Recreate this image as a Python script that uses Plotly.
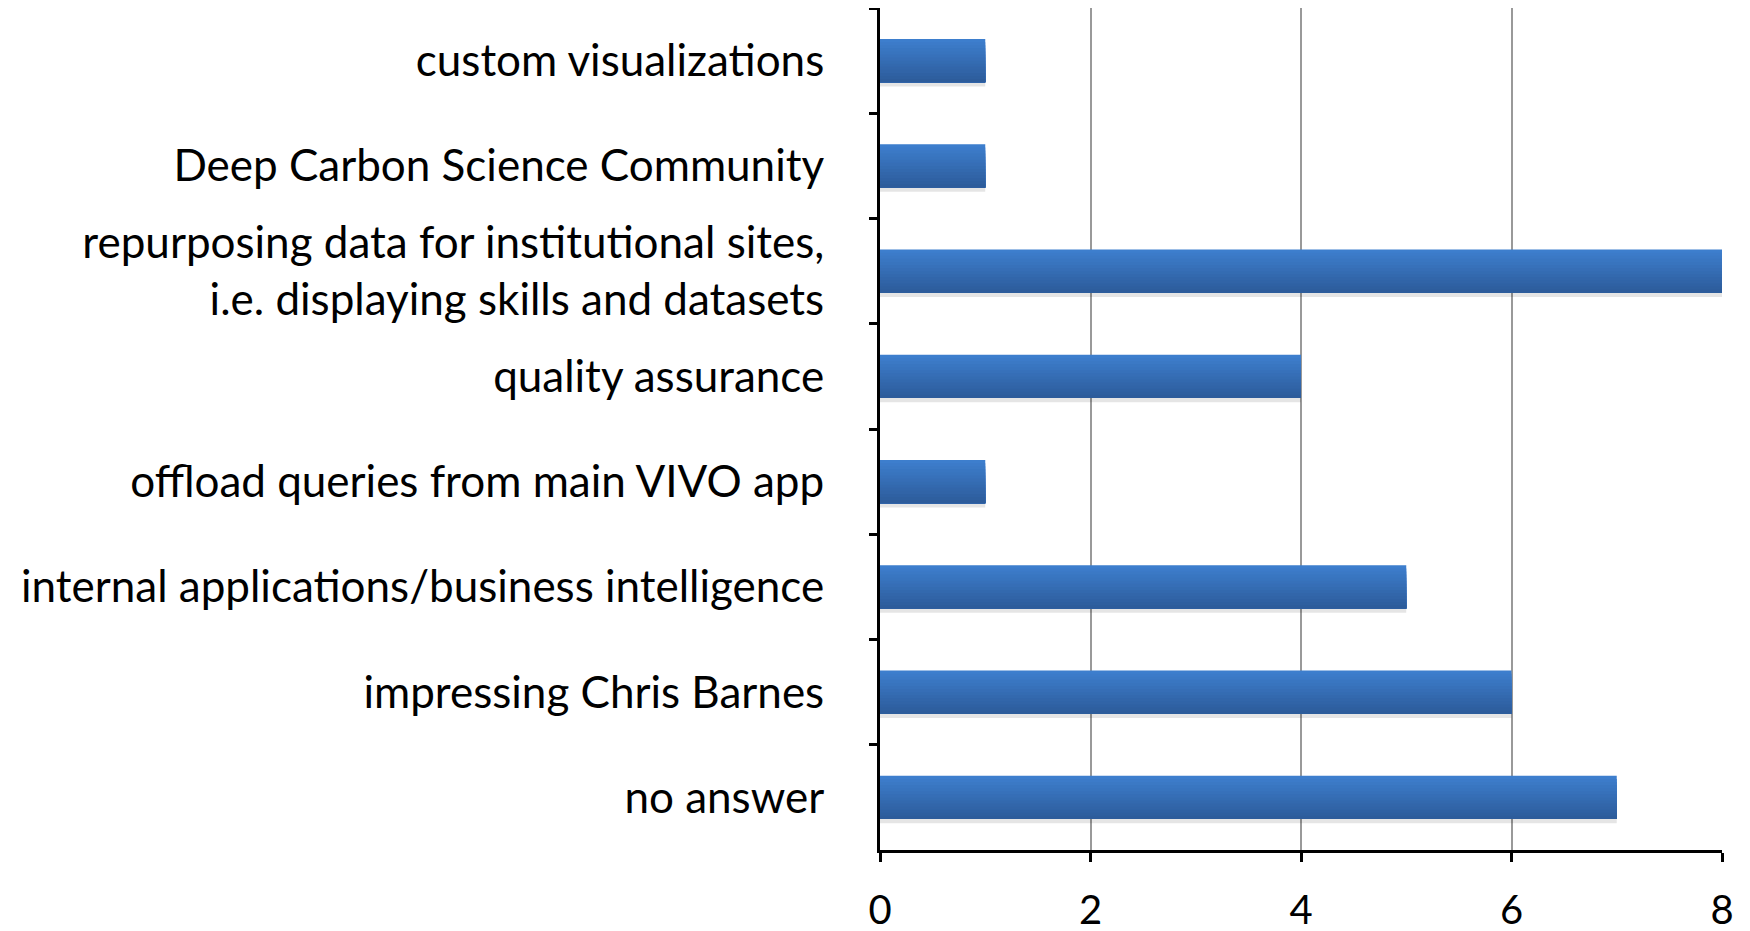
import plotly.graph_objects as go

categories = [
    "custom visualizations",
    "Deep Carbon Science Community",
    "repurposing data for institutional sites,<br>i.e. displaying skills and datasets",
    "quality assurance",
    "offload queries from main VIVO app",
    "internal applications/business intelligence",
    "impressing Chris Barnes",
    "no answer",
]
values = [1, 1, 8, 4, 1, 5, 6, 7]
x_ticks = [0, 2, 4, 6, 8]

FONT = "Lato"
fig = go.Figure()

bw = 0.41
n = 14
top = (0x3d, 0x7e, 0xcd)
bot = (0x2d, 0x5c, 0x9b)

# soft shadow below bars
fig.add_trace(go.Bar(
    y=categories, x=values, orientation="h",
    width=0.05, offset=bw / 2 - 0.01,
    marker=dict(color="rgba(0,0,0,0.10)", line=dict(width=0)),
    hoverinfo="skip", showlegend=False,
))

# vertical gradient: each layer starts lower and runs to the bar bottom
for i in range(n):
    t = i / (n - 1)
    c = tuple(round(top[k] + (bot[k] - top[k]) * t) for k in range(3))
    fig.add_trace(go.Bar(
        y=categories, x=values, orientation="h",
        width=bw - i * bw / n, offset=-bw / 2 + i * bw / n,
        marker=dict(color="rgb(%d,%d,%d)" % c, line=dict(width=0)),
        showlegend=False,
    ))

fig.update_layout(
    width=1750, height=931,
    margin=dict(l=872, r=36, t=0, b=89, autoexpand=False),
    barmode="overlay",
    plot_bgcolor="white", paper_bgcolor="white",
    font=dict(family=FONT, size=44, color="black"),
    showlegend=False,
)
fig.update_xaxes(
    range=[0, 8], tickvals=x_ticks, ticktext=[str(v) for v in x_ticks],
    showgrid=True, gridcolor="#999999", gridwidth=2,
    showline=True, linecolor="black", linewidth=3,
    ticks="outside", ticklen=9, tickwidth=3, tickcolor="black",
    zeroline=False, tickfont=dict(family=FONT, size=40),
    ticklabelstandoff=14,
)
fig.update_yaxes(
    categoryorder="array", categoryarray=categories, autorange="reversed",
    showgrid=False, showline=True, linecolor="black", linewidth=3,
    ticks="outside", ticklen=8, tickwidth=3, tickcolor="black",
    tickson="boundaries", tickfont=dict(family=FONT, size=44),
    ticklabelstandoff=44,
)

fig.write_html("out.html")
